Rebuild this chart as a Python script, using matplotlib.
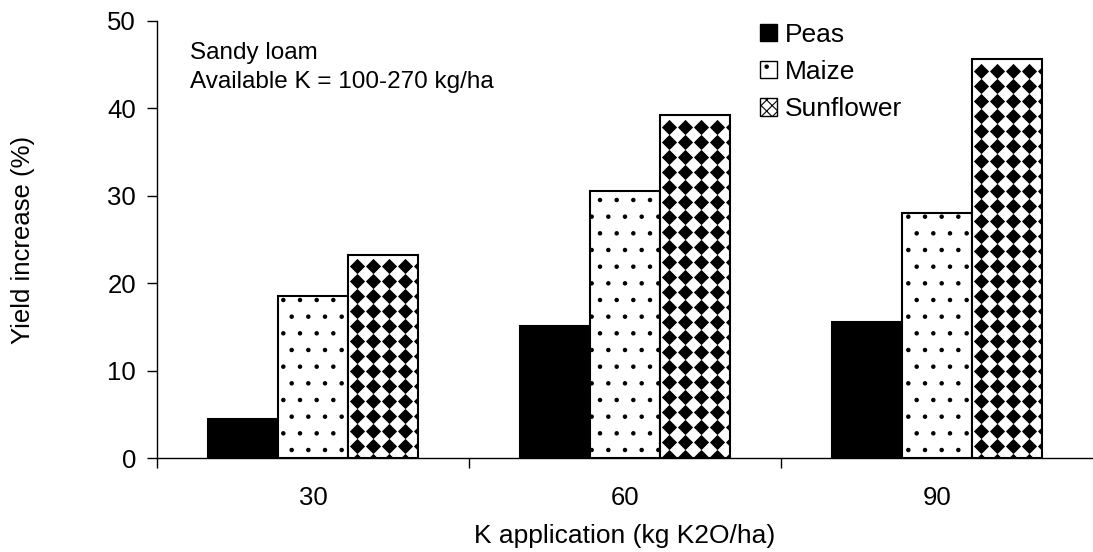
import numpy as np
import matplotlib
matplotlib.use("Agg")
import matplotlib.pyplot as plt
from matplotlib.patches import Patch

plt.rcParams['font.family'] = ['Liberation Sans', 'DejaVu Sans']
plt.rcParams['hatch.linewidth'] = 0.8

doses = ["30", "60", "90"]
peas = [4.5, 15.1, 15.6]
maize = [18.5, 30.5, 28.0]
sunflower = [23.2, 39.2, 45.6]

fig = plt.figure(figsize=(10.93, 5.52), dpi=100)
ax = fig.add_axes([157 / 1093, 1 - 458 / 552, 936 / 1093, 437 / 552])

x = np.arange(len(doses)) + 0.5
w = 0.224

b1 = ax.bar(x - w, peas, w, color="black", edgecolor="black", linewidth=1.5)
b2 = ax.bar(x, maize, w, color="white", edgecolor="black", linewidth=1.5, hatch=".")
b3 = ax.bar(x + w, sunflower, w, color="white", edgecolor="black", linewidth=1.5)

ax.set_xlim(0, 3)
ax.set_ylim(0, 50)

# diamond checker pattern for sunflower bars
px_x = 936 / 3.0
px_y = 437 / 50.0
dx = 16.0 / px_x
dy = 15.0 / px_y
for rect in b3:
    x0 = rect.get_x()
    h = rect.get_height()
    xs = np.arange(x0 - dx / 2 + 0.004, x0 + rect.get_width() + dx, dx)
    ys = np.arange(h - dy * 0.75, -dy, -dy)
    gx, gy = np.meshgrid(xs, ys)
    sc = ax.scatter(gx.ravel(), gy.ravel(), marker="D", s=60, color="black",
                    linewidths=0, zorder=2.5)
    sc.set_clip_path(rect)

ax.spines['top'].set_visible(False)
ax.spines['right'].set_visible(False)
for s in ['left', 'bottom']:
    ax.spines[s].set_linewidth(1.0)

ax.set_yticks(np.arange(0, 51, 10))
ax.set_xticks([0, 1, 2])
ax.set_xticklabels([])
ax.set_xticks(x, minor=True)
ax.set_xticklabels(doses, minor=True)
ax.tick_params(axis='x', which='major', direction='out', length=7, width=1)
ax.tick_params(axis='x', which='minor', length=0, pad=20, labelsize=18.5)
ax.tick_params(axis='y', direction='out', length=7, width=1, labelsize=18.5, pad=8)

ax.set_ylabel("Yield increase (%)", fontsize=18.5)
ax.yaxis.set_label_coords(-0.13, 0.5)
ax.set_xlabel("K application (kg K2O/ha)", fontsize=19)
ax.xaxis.set_label_coords(0.5, -0.151)

ax.text(0.105, 47.6, "Sandy loam\nAvailable K = 100-270 kg/ha", fontsize=17.5,
        va="top", ha="left", linespacing=1.4)

handles = [
    Patch(facecolor="black", edgecolor="black"),
    Patch(facecolor="white", edgecolor="black", hatch="."),
    Patch(facecolor="white", edgecolor="black", hatch="XXX"),
]
ax.legend(handles, ["Peas", "Maize", "Sunflower"], loc="upper left",
          bbox_to_anchor=(0.644, 0.996), frameon=False, fontsize=19,
          handlelength=0.65, handleheight=0.65, handletextpad=0.3,
          labelspacing=0.5, borderpad=0, borderaxespad=0)

fig.savefig("out.png", dpi=100)
